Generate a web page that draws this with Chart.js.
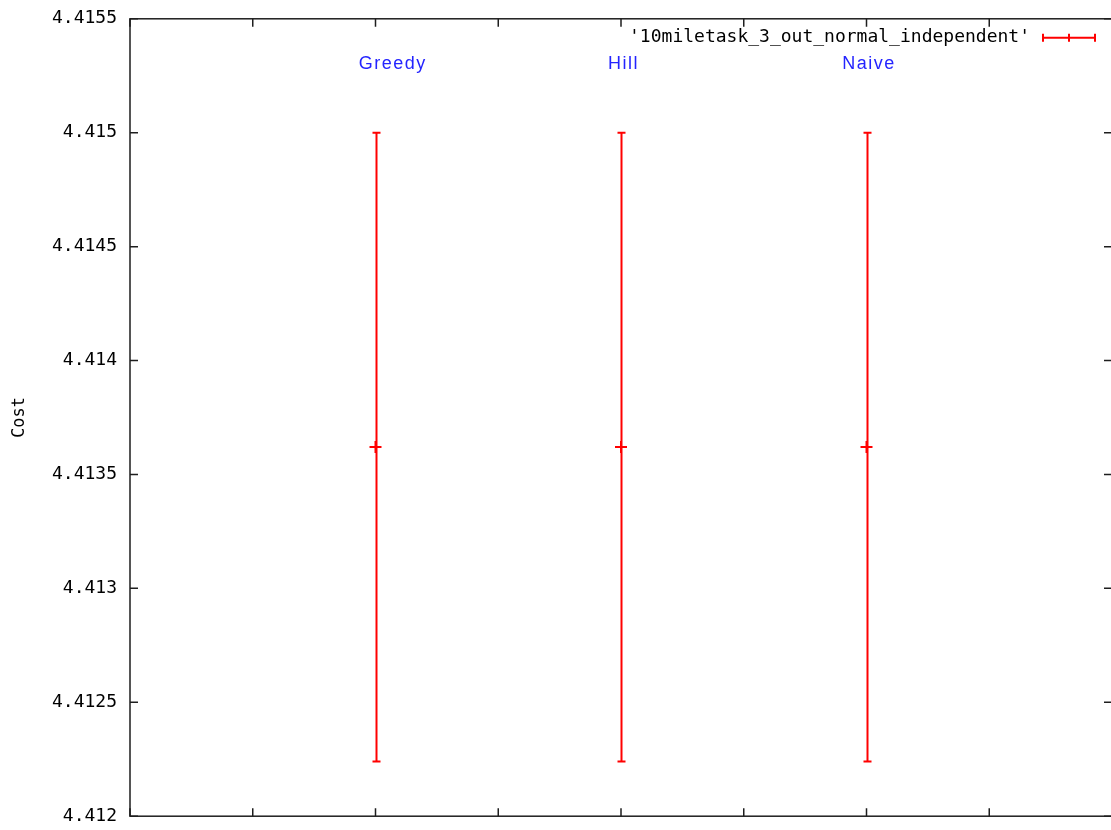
<!DOCTYPE html>
<html>
<head>
<meta charset="utf-8">
<script src="https://cdn.jsdelivr.net/npm/chart.js@4/dist/chart.umd.min.js"></script>
<style>
    html, body { margin: 0; padding: 0; background: #fff; overflow: hidden; }
    #wrap { position: absolute; left: 0; top: -5px; width: 1120px; height: 845px; }
</style>
</head>
<body>
<div id="wrap"><canvas id="costChart"></canvas></div>
<script>
    // values
    const categories = ["Greedy", "Hill", "Naive"];
    const xPositions = [2, 4, 6];
    const meanCost = [4.41362, 4.41362, 4.41362];
    const lowCost = [4.41224, 4.41224, 4.41224];
    const highCost = [4.41500, 4.41500, 4.41500];
    const yTickValues = [4.412, 4.4125, 4.413, 4.4135, 4.414, 4.4145, 4.415, 4.4155];
    const xTickValues = [0, 1, 2, 3, 4, 5, 6, 7, 8];
    const labelX = [2.14, 4.02, 6.02];
    const labelY = [4.4153, 4.4153, 4.4153];
    const seriesName = "'10miletask_3_out_normal_independent'";

    const RED = "#ff0000";
    const BLUE = "#2424ff";
    const AXIS = "#1e1e1e";
    const MONO = "DejaVu Sans Mono";

    const gnuplotLook = {
        id: "gnuplotLook",
        afterDatasetsDraw(chart) {
            const ctx = chart.ctx;
            const xs = chart.scales.x;
            const ys = chart.scales.y;
            ctx.save();
            ctx.strokeStyle = RED;
            ctx.lineWidth = 2;
            xPositions.forEach((xv, i) => {
                const x = Math.round(xs.getPixelForValue(xv)) + 0.5;
                const yLo = ys.getPixelForValue(lowCost[i]);
                const yHi = ys.getPixelForValue(highCost[i]);
                ctx.beginPath();
                ctx.moveTo(x, yLo);
                ctx.lineTo(x, yHi);
                ctx.moveTo(x - 4, yLo);
                ctx.lineTo(x + 4, yLo);
                ctx.moveTo(x - 4, yHi);
                ctx.lineTo(x + 4, yHi);
                ctx.stroke();
            });
            ctx.restore();
        },
        afterDraw(chart) {
            const ctx = chart.ctx;
            const area = chart.chartArea;
            const xs = chart.scales.x;
            const ys = chart.scales.y;
            const tick = 8;
            ctx.save();

            // frame and inward ticks
            ctx.strokeStyle = AXIS;
            ctx.lineWidth = 1.5;
            ctx.strokeRect(area.left, area.top, area.right - area.left, area.bottom - area.top);
            ctx.beginPath();
            yTickValues.forEach(v => {
                const y = ys.getPixelForValue(v);
                ctx.moveTo(area.left, y);
                ctx.lineTo(area.left + tick, y);
                ctx.moveTo(area.right, y);
                ctx.lineTo(area.right - tick, y);
            });
            xTickValues.forEach(v => {
                const x = xs.getPixelForValue(v);
                ctx.moveTo(x, area.bottom);
                ctx.lineTo(x, area.bottom - tick);
                ctx.moveTo(x, area.top);
                ctx.lineTo(x, area.top + tick);
            });
            ctx.stroke();

            // category labels
            ctx.fillStyle = BLUE;
            ctx.font = "18px 'Liberation Sans'";
            ctx.letterSpacing = "1.5px";
            ctx.textAlign = "center";
            ctx.textBaseline = "middle";
            categories.forEach((name, i) => {
                ctx.fillText(name, xs.getPixelForValue(labelX[i]), ys.getPixelForValue(labelY[i]));
            });
            ctx.letterSpacing = "0px";

            // key
            const ky = area.top + 19;
            ctx.fillStyle = "#000";
            ctx.font = "18px '" + MONO + "'";
            ctx.textAlign = "right";
            ctx.fillText(seriesName, 1030, ky);
            ctx.strokeStyle = RED;
            ctx.lineWidth = 2;
            ctx.beginPath();
            ctx.moveTo(1043, ky);
            ctx.lineTo(1095, ky);
            [1043, 1069, 1095].forEach(x => {
                ctx.moveTo(x, ky - 4);
                ctx.lineTo(x, ky + 4);
            });
            ctx.stroke();
            ctx.restore();
        }
    };

    new Chart(document.getElementById("costChart"), {
        type: "scatter",
        data: {
            datasets: [{
                label: seriesName,
                data: xPositions.map((x, i) => ({ x, y: meanCost[i] })),
                borderColor: RED,
                backgroundColor: RED,
                borderWidth: 2,
                pointStyle: "cross",
                pointRadius: 6,
                pointHoverRadius: 6,
                showLine: false
            }]
        },
        options: {
            responsive: true,
            maintainAspectRatio: false,
            animation: false,
            devicePixelRatio: 1,
            layout: { padding: { top: 18, right: 6, left: 0, bottom: 0 } },
            plugins: {
                legend: { display: false },
                tooltip: { enabled: false }
            },
            scales: {
                x: {
                    type: "linear",
                    min: 0,
                    max: 8,
                    ticks: { display: false },
                    grid: { display: false },
                    border: { display: false },
                    afterBuildTicks(scale) {
                        scale.ticks = xTickValues.map(v => ({ value: v }));
                    },
                    afterFit(scale) { scale.height = 15; }
                },
                y: {
                    type: "linear",
                    min: 4.412,
                    max: 4.4155,
                    grid: { display: false, drawTicks: false },
                    border: { display: false },
                    afterBuildTicks(scale) {
                        scale.ticks = yTickValues.map(v => ({ value: v }));
                    },
                    ticks: {
                        padding: 13,
                        color: "#000",
                        font: { family: MONO, size: 18 },
                        callback: v => String(parseFloat(Number(v).toFixed(4)))
                    },
                    title: {
                        display: true,
                        text: "Cost",
                        color: "#000",
                        font: { family: MONO, size: 17 },
                        padding: { top: 9, bottom: 0 }
                    },
                    afterFit(scale) { scale.width = 130; }
                }
            }
        },
        plugins: [gnuplotLook]
    });
</script>
</body>
</html>
